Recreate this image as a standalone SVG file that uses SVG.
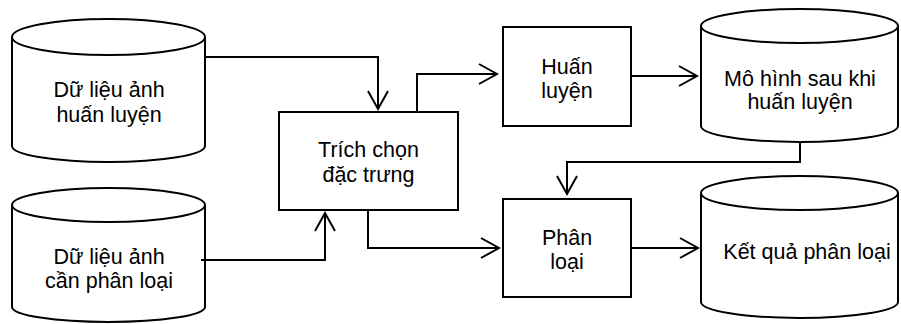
<svg xmlns="http://www.w3.org/2000/svg" width="901" height="324" viewBox="0 0 901 324">
<defs>
<style>
.s{fill:#fff;stroke:#000;stroke-width:2}
.c{fill:none;stroke:#000;stroke-width:2}
.t{font-family:"Liberation Sans",Arial,sans-serif;font-size:21.5px;fill:#000;text-anchor:middle}
</style>
<marker id="arr" markerUnits="userSpaceOnUse" markerWidth="22" markerHeight="24" refX="19" refY="11" orient="auto">
<path d="M1,1 L19,11 L1,21" fill="none" stroke="#000" stroke-width="2"/>
</marker>
</defs>
<rect width="901" height="324" fill="#fff"/>
<g id="n1">
<path class="s" d="M12,37 L12,146 A96.5,16 0 0 0 205,146 L205,37"/>
<ellipse class="s" cx="108.5" cy="37" rx="96.5" ry="18"/>
<text class="t" x="109" y="97">Dữ liệu ảnh</text>
<text class="t" x="109" y="122">huấn luyện</text>
</g>
<g id="n2">
<path class="s" d="M12,205 L12,307 A96.5,15 0 0 0 205,307 L205,205"/>
<ellipse class="s" cx="108.5" cy="205" rx="96.5" ry="17"/>
<text class="t" x="109" y="264">Dữ liệu ảnh</text>
<text class="t" x="109" y="288">cần phân loại</text>
</g>
<g id="n3">
<rect class="s" x="279" y="112" width="179" height="98"/>
<text class="t" x="368.5" y="157">Trích chọn</text>
<text class="t" x="368.5" y="182">đặc trưng</text>
</g>
<g id="n4">
<rect class="s" x="503" y="27" width="128" height="99"/>
<text class="t" x="567" y="74">Huấn</text>
<text class="t" x="567" y="98">luyện</text>
</g>
<g id="n5">
<rect class="s" x="503" y="199" width="128" height="98"/>
<text class="t" x="567" y="245">Phân</text>
<text class="t" x="567" y="269">loại</text>
</g>
<g id="n6">
<path class="s" d="M701,26 L701,126 A98.5,16 0 0 0 898,126 L898,26"/>
<ellipse class="s" cx="799.5" cy="26" rx="98.5" ry="17"/>
<text class="t" x="800" y="85.5">Mô hình sau khi</text>
<text class="t" x="800" y="109">huấn luyện</text>
</g>
<g id="n7">
<path class="s" d="M701,193 L701,302 A98.5,16 0 0 0 898,302 L898,193"/>
<ellipse class="s" cx="799.5" cy="193" rx="98.5" ry="17"/>
<text class="t" x="807" y="259">Kết quả phân loại</text>
</g>
<g id="connectors">
<path class="c" d="M205,57 H378 V109" marker-end="url(#arr)"/>
<path class="c" d="M201,260 H325 V213" marker-end="url(#arr)"/>
<path class="c" d="M417,112 V74 H497" marker-end="url(#arr)"/>
<path class="c" d="M368,210 V248 H499" marker-end="url(#arr)"/>
<path class="c" d="M631,76 H697" marker-end="url(#arr)"/>
<path class="c" d="M631,248 H698" marker-end="url(#arr)"/>
<path class="c" d="M800,142 V162 H567 V194" marker-end="url(#arr)"/>
</g>
</svg>
